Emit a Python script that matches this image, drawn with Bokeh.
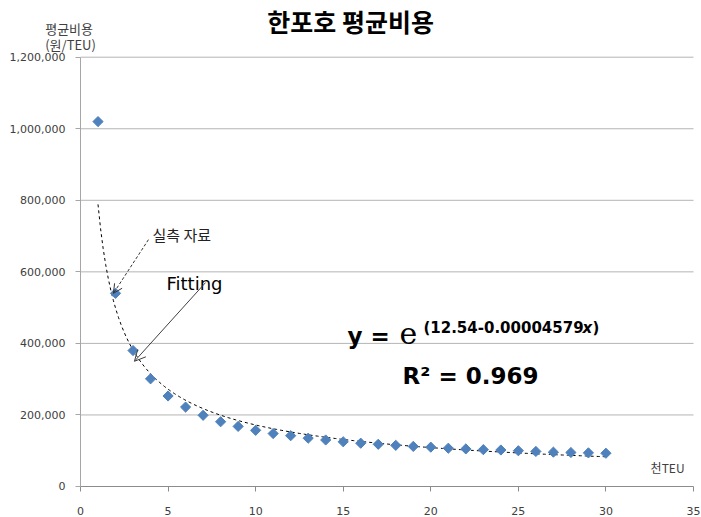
import numpy as np
from bokeh.plotting import figure
from bokeh.models import (ColumnDataSource, Label, Arrow, OpenHead, FixedTicker,
                          NumeralTickFormatter, Range1d)
from bokeh.embed import file_html
from bokeh.resources import INLINE

# ---- data ----
volume_kteu = [1, 2, 3, 4, 5, 6, 7, 8, 9, 10, 11, 12, 13, 14, 15,
               16, 17, 18, 19, 20, 21, 22, 23, 24, 25, 26, 27, 28, 29, 30]
avg_cost = [1020000, 540000, 380000, 301000, 253000, 222000, 199000, 181000,
            168000, 157000, 148000, 142000, 135000, 130000, 125000, 121000,
            118000, 115000, 112000, 110000, 107000, 105000, 103000, 102000,
            100000, 98000, 96000, 95000, 94000, 93000]
x_ticks = [0, 5, 10, 15, 20, 25, 30, 35]
y_ticks = [0, 200000, 400000, 600000, 800000, 1000000, 1200000]

title_text = "한포호 평균비용"
y_label_1 = "평균비용"
y_label_2 = "(원/TEU)"
x_unit = "천TEU"
note_actual = "실측 자료"
note_fit = "Fitting"

# power-law trend (least squares in log-log space, as a spreadsheet trendline)
xs = np.array(volume_kteu, dtype=float)
ys = np.array(avg_cost, dtype=float)
b, ln_a = np.polyfit(np.log(xs), np.log(ys), 1)
fit_x = np.linspace(xs.min(), xs.max(), 200)
fit_y = np.exp(ln_a) * fit_x ** b

W, H = 701, 517
# the frame covers the whole canvas; the axes are pinned at x=0 / y=0
p = figure(width=W, height=H, output_backend="svg", toolbar_location=None,
           x_range=Range1d(-4.5677, 35.4567), y_range=Range1d(-86653, 1358491),
           min_border=0, min_border_left=0, min_border_right=0,
           min_border_top=0, min_border_bottom=0)
p.outline_line_color = None
p.background_fill_color = "white"
p.border_fill_color = "white"
p.xgrid.visible = False
p.ygrid.visible = False

p.xaxis.ticker = FixedTicker(ticks=x_ticks)
p.yaxis.ticker = FixedTicker(ticks=y_ticks)
p.yaxis.formatter = NumeralTickFormatter(format="0,0")
p.xaxis.fixed_location = 0
p.yaxis.fixed_location = 0
p.xaxis.bounds = (x_ticks[0], x_ticks[-1])
p.yaxis.bounds = (y_ticks[0], y_ticks[-1])
for ax in (p.xaxis[0], p.yaxis[0]):
    ax.major_tick_out = 5
    ax.major_tick_in = 0
    ax.minor_tick_line_color = None
    ax.major_label_text_font = "DejaVu Sans"
    ax.major_label_text_font_size = "11px"
    ax.major_label_text_color = "#404040"
p.xaxis.axis_line_color = "#8c8c8c"
p.xaxis.major_tick_line_color = "#8c8c8c"
p.yaxis.axis_line_color = "#a6a6a6"
p.yaxis.major_tick_line_color = "#a6a6a6"
p.yaxis.major_label_standoff = 10
p.xaxis.major_label_standoff = 16

# horizontal gridlines, spanning the x-axis extent only
p.segment(x0=[x_ticks[0]] * (len(y_ticks) - 1), x1=[x_ticks[-1]] * (len(y_ticks) - 1),
          y0=y_ticks[1:], y1=y_ticks[1:], line_color="#b4b4b4", line_width=1,
          level="underlay")

# trend line
p.line(fit_x, fit_y, line_color="black", line_dash="3 3", line_width=1)

# observed points
src = ColumnDataSource(dict(x=volume_kteu, y=avg_cost))
p.scatter("x", "y", source=src, marker="square", angle=np.pi / 4, size=7.2,
          fill_color="#4f81bd", line_color="#4f81bd")

FONT_KR = "Noto Sans CJK KR"

# title and axis captions
p.add_layout(Label(x=15.42, y=1300000, text=title_text, text_font=FONT_KR,
                   text_font_size="25px", text_font_style="bold",
                   text_align="center", text_baseline="middle", text_color="black"))
p.add_layout(Label(x=-0.65, y=1280000, text=y_label_1, text_font=FONT_KR,
                   text_font_size="13px", text_align="center",
                   text_baseline="middle", text_color="#404040"))
p.add_layout(Label(x=-0.57, y=1235000, text=y_label_2, text_font=FONT_KR,
                   text_font_size="13px", text_align="center",
                   text_baseline="middle", text_color="#404040"))
p.add_layout(Label(x=32.55, y=53000, text=x_unit, text_font=FONT_KR,
                   text_font_size="12px", text_align="left",
                   text_baseline="middle", text_color="#404040"))

# annotations
p.add_layout(Label(x=4.11, y=704000, text=note_actual, text_font=FONT_KR,
                   text_font_size="15px", text_align="left",
                   text_baseline="middle", text_color="#222222"))
p.add_layout(Arrow(x_start=3.88, y_start=690000,
                   x_end=volume_kteu[1] - 0.12, y_end=avg_cost[1],
                   line_color="#333333", line_width=1, line_dash="3 2",
                   end=OpenHead(size=9, line_color="#333333", line_width=1)))

p.add_layout(Label(x=4.91, y=567000, text=note_fit, text_font="DejaVu Sans",
                   text_font_size="18px", text_align="left",
                   text_baseline="alphabetic", text_color="black"))
p.add_layout(Arrow(x_start=7.14, y_start=570000, x_end=3.08, y_end=350000,
                   line_color="#404040", line_width=1,
                   end=OpenHead(size=11, line_color="#404040", line_width=1)))

# equation
p.add_layout(Label(x=15.25, y=422000, text="y = ", text_font="DejaVu Sans",
                   text_font_size="23px", text_font_style="bold",
                   text_align="left", text_baseline="alphabetic", text_color="black"))
p.add_layout(Label(x=18.22, y=428000, text="e", text_font="DejaVu Serif",
                   text_font_size="30px", text_align="left",
                   text_baseline="alphabetic", text_color="black"))
p.add_layout(Label(x=19.58, y=444000, text="(12.54-0.00004579",
                   text_font="DejaVu Sans", text_font_size="15px",
                   text_font_style="bold", text_align="left",
                   text_baseline="alphabetic", text_color="black"))
p.add_layout(Label(x=28.66, y=444000, text="x", text_font="DejaVu Sans",
                   text_font_size="15px", text_font_style="bold italic",
                   text_align="left", text_baseline="alphabetic", text_color="black"))
p.add_layout(Label(x=29.24, y=444000, text=")", text_font="DejaVu Sans",
                   text_font_size="15px", text_font_style="bold",
                   text_align="left", text_baseline="alphabetic", text_color="black"))
p.add_layout(Label(x=18.39, y=310000, text="R² = 0.969", text_font="DejaVu Sans",
                   text_font_size="23px", text_font_style="bold",
                   text_align="left", text_baseline="alphabetic", text_color="black"))

open("out.html", "w").write(file_html(p, INLINE))
